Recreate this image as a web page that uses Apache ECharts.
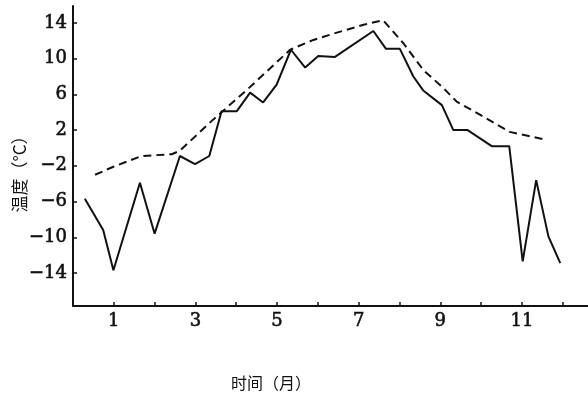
<!DOCTYPE html>
<html>
<head>
<meta charset="utf-8">
<script src="https://cdn.jsdelivr.net/npm/echarts@6/dist/echarts.min.js"></script>
<style>
  html, body { margin: 0; padding: 0; background: #fff; }
  #chart { width: 588px; height: 400px; }
</style>
</head>
<body>
<div id="chart"></div>
<script>
// Observed temperature (solid) by month
const solidMonths = [0.29, 0.74, 0.99, 1.64, 2.0, 2.62, 2.99, 3.34, 3.64, 4.01, 4.34, 4.66, 4.99, 5.34, 5.69, 6.01, 6.42, 7.36, 7.67, 8.01, 8.34, 8.59, 9.04, 9.32, 9.67, 10.26, 10.69, 11.02, 11.35, 11.65, 11.94];
const solidTemps  = [-5.7, -9.2, -13.7, -3.9, -9.6, -0.9, -1.8, -0.9, 4.1, 4.1, 6.2, 5.1, 7.1, 11.0, 9.0, 10.3, 10.2, 13.1, 11.1, 11.1, 8.0, 6.4, 4.8, 2.0, 2.0, 0.2, 0.2, -12.7, -3.6, -9.9, -12.9];

// Reference temperature curve (dashed)
const dashedMonths = [0.54, 0.99, 1.68, 2.42, 2.62, 3.44, 4.26, 5.32, 5.89, 6.38, 7.12, 7.6, 8.1, 8.59, 9.08, 9.40, 9.98, 10.7, 11.61];
const dashedTemps  = [-3.0, -2.1, -0.9, -0.7, -0.3, 3.2, 6.5, 11.0, 12.1, 12.8, 13.8, 14.3, 11.7, 8.7, 6.7, 5.2, 3.7, 1.8, 0.9];

// Axis ticks
const yTickValues = [-14, -10, -6, -2, 2, 6, 10, 14];
const xTickValues = [1, 2, 3, 4, 5, 6, 7, 8, 9, 10, 11, 12];
const xLabelValues = [1, 3, 5, 7, 9, 11];

const yAxisTitle = '温度（°C）';
const xAxisTitle = '时间（月）';

const pair = (xs, ys) => xs.map((x, i) => [x, ys[i]]);

const chart = echarts.init(document.getElementById('chart'), null, { renderer: 'canvas' });

// Heavy serif numerals for the tick labels
const numFont = {
  fontFamily: '"DejaVu Serif", "Liberation Serif", serif',
  fontSize: 18,
  color: '#111',
  textBorderColor: '#111',
  textBorderWidth: 0.6
};

chart.setOption({
  animation: false,
  backgroundColor: '#fff',
  grid: { left: 73, right: 0, top: 6, bottom: 94, containLabel: false },
  xAxis: {
    type: 'value',
    min: 0,
    max: 12.62,
    axisLine: { show: true, onZero: false, lineStyle: { color: '#111', width: 2 } },
    axisTick: { show: true, inside: true, length: 4, customValues: xTickValues, lineStyle: { color: '#111', width: 1.5 } },
    axisLabel: Object.assign({ customValues: xLabelValues, margin: 6 }, numFont),
    splitLine: { show: false }
  },
  yAxis: {
    type: 'value',
    min: -17.7,
    max: 15.9,
    axisLine: { show: true, onZero: false, lineStyle: { color: '#111', width: 2 } },
    axisTick: { show: true, inside: true, length: 4, customValues: yTickValues, lineStyle: { color: '#111', width: 1.5 } },
    axisLabel: Object.assign({
      customValues: yTickValues,
      margin: 6,
      formatter: v => (v < 0 ? '\u2212' + Math.abs(v) : String(v))
    }, numFont),
    splitLine: { show: false }
  },
  graphic: [
    {
      type: 'text',
      x: 20, y: 170,
      rotation: Math.PI / 2,
      style: {
        text: yAxisTitle,
        fontFamily: '"Noto Sans CJK SC", sans-serif',
        fontSize: 17,
        fill: '#111',
        align: 'center',
        verticalAlign: 'middle'
      }
    },
    {
      type: 'text',
      x: 271, y: 383,
      style: {
        text: xAxisTitle,
        fontFamily: '"Noto Sans CJK SC", sans-serif',
        fontSize: 16,
        fill: '#111',
        align: 'center',
        verticalAlign: 'middle'
      }
    }
  ],
  series: [
    {
      name: 'solid',
      type: 'line',
      data: pair(solidMonths, solidTemps),
      showSymbol: false,
      lineStyle: { color: '#111', width: 2 }
    },
    {
      name: 'dashed',
      type: 'line',
      data: pair(dashedMonths, dashedTemps),
      showSymbol: false,
      lineStyle: { color: '#111', width: 2, type: [8, 5] }
    }
  ]
});
</script>
</body>
</html>
